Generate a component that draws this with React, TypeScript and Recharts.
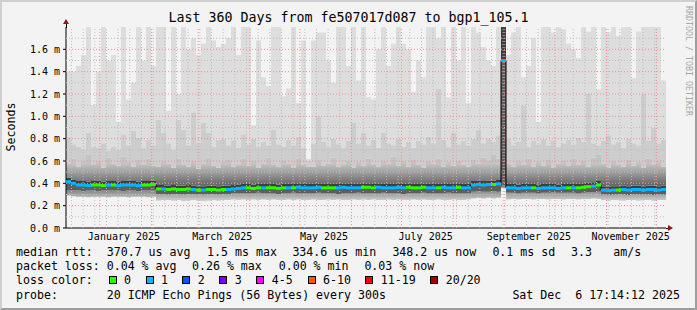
import React from "react";
import { ComposedChart, Area, Line, Scatter, XAxis, YAxis, ReferenceLine } from "recharts";

// time window: 360 days ending Sat Dec 6 17:14:12 2025, one sample every 3 days
const START = Date.UTC(2024, 11, 11, 17, 14, 12);
const DAY = 86400000;
const STEP = 3;
const SPAN = 360;

const monthStarts = [
  "2025-01-01", "2025-02-01", "2025-03-01", "2025-04-01", "2025-05-01", "2025-06-01",
  "2025-07-01", "2025-08-01", "2025-09-01", "2025-10-01", "2025-11-01", "2025-12-01",
];
const monthLabels = ["January 2025", "March 2025", "May 2025", "July 2025", "September 2025", "November 2025"];
const monthLabelDates = [
  "2025-01-15T12:00:00Z", "2025-03-15T12:00:00Z", "2025-05-15T12:00:00Z",
  "2025-07-15T12:00:00Z", "2025-09-15T12:00:00Z", "2025-11-15T12:00:00Z",
];
const firstSunday = "2024-12-15";

const yTicks = [0, 0.2, 0.4, 0.6, 0.8, 1.0, 1.2, 1.4, 1.6];
const yMinor = [0.1, 0.3, 0.5, 0.7, 0.9, 1.1, 1.3, 1.5, 1.7];

// median rtt (ms)
const med = [
  0.415, 0.40, 0.385, 0.385, 0.38, 0.385, 0.385, 0.38, 0.385, 0.385,
  0.38, 0.385, 0.385, 0.385, 0.38, 0.385, 0.385, 0.39, 0.35, 0.35,
  0.345, 0.35, 0.345, 0.345, 0.35, 0.345, 0.34, 0.34, 0.345, 0.345,
  0.34, 0.345, 0.345, 0.35, 0.355, 0.36, 0.36, 0.355, 0.36, 0.36,
  0.36, 0.36, 0.355, 0.36, 0.36, 0.36, 0.365, 0.36, 0.36, 0.36,
  0.365, 0.36, 0.36, 0.36, 0.36, 0.365, 0.36, 0.36, 0.36, 0.365,
  0.365, 0.36, 0.365, 0.36, 0.36, 0.36, 0.365, 0.36, 0.365, 0.36,
  0.36, 0.365, 0.36, 0.36, 0.36, 0.365, 0.36, 0.36, 0.365, 0.36,
  0.36, 0.385, 0.39, 0.385, 0.39, 0.39, 0.395, 1.5, 0.36, 0.36,
  0.355, 0.36, 0.36, 0.36, 0.355, 0.36, 0.36, 0.36, 0.355, 0.36,
  0.36, 0.36, 0.36, 0.365, 0.37, 0.375, 0.385, 0.34, 0.335, 0.34,
  0.34, 0.345, 0.34, 0.345, 0.345, 0.34, 0.345, 0.345, 0.34, 0.345,
];

// lost pings per sample (0 or 1 of 20)
const loss = [
  1, 1, 1, 1, 1, 0, 0, 0, 1, 0,
  1, 1, 1, 1, 1, 0, 0, 0, 0, 1,
  0, 0, 0, 0, 0, 1, 0, 1, 0, 0,
  0, 0, 1, 1, 1, 1, 0, 0, 0, 1,
  0, 0, 0, 0, 1, 0, 1, 1, 1, 1,
  1, 0, 0, 0, 1, 1, 1, 1, 1, 0,
  0, 0, 1, 1, 1, 1, 1, 1, 0, 0,
  0, 0, 1, 1, 0, 1, 1, 1, 0, 1,
  1, 1, 1, 1, 1, 0, 1, 1, 1, 1,
  1, 1, 1, 0, 1, 1, 1, 1, 1, 1,
  0, 1, 0, 0, 0, 1, 0, 1, 1, 1,
  0, 1, 1, 1, 1, 1, 1, 1, 1, 1,
];

// smoke: lowest ping
const lo = [
  0.29, 0.285, 0.28, 0.28, 0.275, 0.28, 0.28, 0.28, 0.275, 0.28,
  0.28, 0.28, 0.275, 0.28, 0.28, 0.28, 0.275, 0.28, 0.245, 0.25,
  0.25, 0.245, 0.25, 0.24, 0.245, 0.25, 0.245, 0.24, 0.245, 0.25,
  0.245, 0.25, 0.25, 0.255, 0.25, 0.255, 0.25, 0.255, 0.25, 0.255,
  0.25, 0.255, 0.25, 0.25, 0.255, 0.25, 0.255, 0.25, 0.25, 0.255,
  0.25, 0.25, 0.255, 0.25, 0.255, 0.25, 0.25, 0.255, 0.25, 0.255,
  0.25, 0.255, 0.25, 0.25, 0.255, 0.25, 0.255, 0.25, 0.25, 0.255,
  0.25, 0.255, 0.25, 0.25, 0.255, 0.25, 0.25, 0.255, 0.25, 0.25,
  0.255, 0.265, 0.27, 0.265, 0.27, 0.265, 0.27, 0.36, 0.255, 0.26,
  0.255, 0.26, 0.26, 0.255, 0.26, 0.26, 0.255, 0.26, 0.26, 0.255,
  0.26, 0.26, 0.255, 0.26, 0.26, 0.265, 0.26, 0.25, 0.245, 0.25,
  0.25, 0.245, 0.25, 0.25, 0.245, 0.25, 0.25, 0.245, 0.25, 0.25,
];

// smoke: lower edge of the dark band under the median
const dlo = [
  0.34, 0.335, 0.335, 0.33, 0.335, 0.335, 0.33, 0.335, 0.335, 0.34,
  0.335, 0.33, 0.335, 0.335, 0.33, 0.335, 0.335, 0.34, 0.305, 0.305,
  0.30, 0.305, 0.305, 0.30, 0.305, 0.305, 0.30, 0.30, 0.305, 0.305,
  0.30, 0.305, 0.305, 0.31, 0.31, 0.31, 0.31, 0.31, 0.315, 0.31,
  0.31, 0.31, 0.305, 0.31, 0.31, 0.315, 0.31, 0.31, 0.31, 0.31,
  0.315, 0.31, 0.31, 0.31, 0.305, 0.31, 0.31, 0.31, 0.315, 0.31,
  0.31, 0.31, 0.31, 0.315, 0.31, 0.31, 0.31, 0.305, 0.31, 0.31,
  0.31, 0.315, 0.31, 0.31, 0.31, 0.31, 0.315, 0.31, 0.31, 0.31,
  0.31, 0.325, 0.33, 0.325, 0.325, 0.33, 0.325, 0.37, 0.315, 0.315,
  0.31, 0.315, 0.315, 0.315, 0.31, 0.315, 0.315, 0.32, 0.315, 0.315,
  0.315, 0.315, 0.31, 0.315, 0.32, 0.32, 0.325, 0.30, 0.295, 0.30,
  0.30, 0.30, 0.295, 0.30, 0.30, 0.30, 0.30, 0.295, 0.30, 0.30,
];

// smoke: upper edge of the dark band over the median
const u1 = [
  0.45, 0.43, 0.42, 0.42, 0.415, 0.42, 0.425, 0.415, 0.42, 0.42,
  0.415, 0.42, 0.425, 0.42, 0.415, 0.42, 0.42, 0.425, 0.385, 0.385,
  0.38, 0.385, 0.38, 0.38, 0.385, 0.38, 0.375, 0.375, 0.38, 0.38,
  0.375, 0.38, 0.38, 0.385, 0.39, 0.395, 0.395, 0.39, 0.395, 0.395,
  0.395, 0.395, 0.39, 0.395, 0.395, 0.395, 0.40, 0.395, 0.395, 0.395,
  0.40, 0.395, 0.395, 0.395, 0.395, 0.40, 0.395, 0.395, 0.395, 0.40,
  0.40, 0.395, 0.40, 0.395, 0.395, 0.395, 0.40, 0.395, 0.40, 0.395,
  0.395, 0.40, 0.395, 0.395, 0.395, 0.40, 0.395, 0.395, 0.40, 0.395,
  0.395, 0.42, 0.425, 0.42, 0.425, 0.425, 0.43, 1.8, 0.395, 0.395,
  0.39, 0.395, 0.395, 0.395, 0.39, 0.395, 0.395, 0.395, 0.39, 0.395,
  0.395, 0.395, 0.395, 0.40, 0.405, 0.41, 0.42, 0.375, 0.37, 0.375,
  0.375, 0.38, 0.375, 0.38, 0.38, 0.375, 0.38, 0.38, 0.375, 0.38,
];

// smoke: top of the mid grey band
const mid1 = [
  0.58, 0.62, 0.55, 0.60, 0.66, 0.57, 0.60, 0.54, 0.63, 0.58,
  0.56, 0.64, 0.59, 0.55, 0.61, 0.57, 0.62, 0.56, 0.55, 0.60,
  0.58, 0.54, 0.62, 0.57, 0.55, 0.60, 0.53, 0.58, 0.63, 0.56,
  0.54, 0.59, 0.61, 0.55, 0.57, 0.62, 0.56, 0.60, 0.54, 0.58,
  0.63, 0.57, 0.55, 0.60, 0.58, 0.54, 0.62, 0.57, 0.55, 0.55,
  0.61, 0.56, 0.58, 0.63, 0.55, 0.57, 0.60, 0.54, 0.59, 0.56,
  0.62, 0.57, 0.55, 0.60, 0.58, 0.64, 0.56, 0.59, 0.55, 0.61,
  0.57, 0.54, 0.60, 0.58, 0.62, 0.55, 0.59, 0.56, 0.60, 0.57,
  0.55, 0.61, 0.58, 0.63, 0.60, 0.66, 0.62, 1.8, 0.58, 0.55,
  0.60, 0.57, 0.62, 0.55, 0.59, 0.56, 0.61, 0.54, 0.58, 0.60,
  0.56, 0.62, 0.57, 0.60, 0.55, 0.63, 0.66, 0.58, 0.54, 0.60,
  0.57, 0.55, 0.61, 0.56, 0.59, 0.54, 0.62, 0.57, 0.60, 0.55,
];

// smoke: top of the light grey spikes
const mid2 = [
  0.82, 0.75, 0.73, 0.70, 0.85, 0.73, 0.72, 0.76, 0.69, 0.73,
  0.70, 0.84, 0.74, 0.87, 0.81, 0.72, 0.79, 0.74, 0.97, 0.85,
  0.76, 0.70, 0.97, 0.88, 0.74, 1.03, 0.76, 0.94, 0.85, 0.73,
  0.79, 0.80, 0.74, 0.78, 0.72, 0.84, 0.75, 0.80, 0.73, 0.77,
  0.74, 0.88, 0.75, 0.73, 0.79, 0.74, 0.82, 0.72, 0.60, 0.76,
  1.00, 0.77, 0.73, 0.80, 0.75, 0.72, 0.78, 0.94, 0.76, 0.85,
  0.74, 0.79, 0.72, 0.85, 0.76, 0.74, 0.80, 0.73, 0.77, 0.72,
  0.78, 0.75, 0.82, 0.76, 1.25, 0.79, 0.73, 0.85, 0.75, 0.78,
  0.74, 0.80, 0.88, 0.76, 0.80, 0.77, 0.83, 1.8, 0.80, 0.74,
  0.77, 1.10, 0.73, 0.78, 0.75, 0.80, 0.74, 0.78, 0.73, 0.76,
  0.79, 0.75, 0.81, 0.77, 1.20, 0.76, 0.74, 0.78, 0.83, 0.75,
  0.77, 0.72, 0.80, 0.76, 0.74, 1.20, 0.78, 0.90, 0.76, 0.79,
];

// smoke: highest ping (1.8 = off the top of the graph)
const hi = [
  1.40, 1.40, 1.45, 1.55, 1.8, 1.10, 1.40, 1.8, 1.50, 1.55,
  0.95, 1.8, 1.15, 1.30, 1.8, 1.50, 1.8, 1.45, 1.8, 1.8,
  1.05, 1.8, 1.20, 1.8, 1.60, 1.70, 1.55, 1.65, 1.8, 1.68,
  1.62, 1.65, 1.70, 1.8, 1.55, 1.8, 1.8, 0.92, 1.68, 1.35,
  1.27, 1.8, 1.8, 1.18, 1.25, 1.8, 1.12, 1.68, 0.62, 1.68,
  1.75, 1.75, 1.50, 1.30, 1.8, 1.8, 1.45, 1.8, 1.32, 1.8,
  1.17, 1.15, 1.60, 1.8, 1.45, 1.65, 1.8, 1.65, 1.60, 1.22,
  1.50, 1.35, 1.8, 1.8, 1.70, 1.8, 1.17, 1.8, 1.50, 1.8,
  1.12, 1.8, 1.75, 1.62, 1.50, 1.45, 1.8, 1.8, 1.55, 1.75,
  1.8, 1.35, 1.45, 1.70, 0.95, 1.8, 1.8, 1.75, 1.8, 1.78,
  1.65, 1.60, 1.52, 1.8, 1.76, 1.8, 1.24, 1.8, 1.75, 1.8,
  1.72, 1.8, 1.8, 1.34, 1.76, 1.8, 1.8, 1.8, 1.8, 1.32,
];

const lossColors = ["#26ff00", "#00b8ff", "#0059ff", "#7e00ff", "#ff00ff", "#ff5500", "#ff0000", "#a10000"];
const lossLabels = ["0", "1", "2", "3", "4-5", "6-10", "11-19", "20/20"];

const statsRtt = ["median rtt:", "370.7 us avg", "1.5 ms max", "334.6 us min", "348.2 us now", "0.1 ms sd", "3.3", "am/s"];
const statsLoss = ["packet loss:", "0.04 % avg", "0.26 % max", "0.00 % min", "0.03 % now"];
const probeText = ["probe:", "20 ICMP Echo Pings (56 Bytes) every 300s", "Sat Dec  6 17:14:12 2025"];

const toDay = (s: string) => (Date.parse(s.length === 10 ? s + "T00:00:00Z" : s) - START) / DAY;
const monthDays = monthStarts.map(toDay);
const labelDays = monthLabelDates.map(toDay);
const weekDays: number[] = [];
for (let d = toDay(firstSunday); d < SPAN; d += 7) weekDays.push(d);

const rows = med.map((m, i) => ({
  t: i * STEP,
  med: m,
  loss: loss[i],
  lo: lo[i],
  dlo: dlo[i],
  u1: u1[i],
  mid1: mid1[i],
  mid2: mid2[i],
  hi: hi[i],
}));
const chartRows = [...rows, { ...rows[rows.length - 1], t: SPAN }];

const bands = [
  { from: "lo", to: "dlo", fill: "url(#smokeLow)" },
  { from: "dlo", to: "med", fill: "#5e5e5e" },
  { from: "med", to: "u1", fill: "#3e3e3e" },
  { from: "u1", to: "mid1", fill: "url(#smokeUp)" },
  { from: "mid1", to: "mid2", fill: "#cdcdcd" },
  { from: "mid2", to: "hi", fill: "#dddddd" },
];

const MONO = "'DejaVu Sans Mono', monospace";
const W = 697;
const H = 310;
const MARGIN = { top: 27, right: 31, bottom: 68, left: 10 };

const MedianMark = (p: any) => {
  const { cx, cy, payload } = p;
  if (cx == null || cy == null) return null;
  return <rect x={cx} y={cy - 1.5} width={5} height={3} fill={lossColors[payload.loss]} />;
};

const Txt = ({ x, y, children }: { x: number; y: number; children: React.ReactNode }) => (
  <div style={{ position: "absolute", left: x, top: y - 7, lineHeight: "14px", whiteSpace: "pre" }}>{children}</div>
);

// same axes in every layer so all layers share one plot rectangle
const axes = (bare: boolean) => [
  <XAxis
    key="x"
    type="number"
    dataKey="t"
    domain={[0, SPAN]}
    ticks={labelDays}
    interval={0}
    tickFormatter={(v: number) => monthLabels[labelDays.indexOf(v)] ?? ""}
    tick={bare ? false : { fontSize: 10, fontFamily: MONO, fill: "#000" }}
    tickLine={false}
    tickSize={0}
    tickMargin={5}
    height={14}
    axisLine={bare ? false : { stroke: "#000" }}
  />,
  <YAxis
    key="y"
    type="number"
    domain={[0, 1.8]}
    allowDataOverflow
    ticks={yTicks}
    interval={0}
    tickFormatter={(v: number) => `${v.toFixed(1)} m`}
    tick={bare ? false : { fontSize: 10, fontFamily: MONO, fill: "#000" }}
    tickSize={3}
    tickMargin={3}
    width={56}
    axisLine={bare ? false : { stroke: "#000" }}
    tickLine={bare ? false : { stroke: "#000" }}
  />,
];

const layer: React.CSSProperties = { position: "absolute", left: 0, top: 0 };

export default function App() {
  const rttX = [16, 106.7, 207.1, 292.4, 392.4, 492.4, 571.1, 613.3];
  const lossX = [16, 106.7, 192, 278.7, 364.4];
  const swatchX = [108.5, 145.5, 182.3, 219.2, 256.3, 307.6, 365.3, 430.2];
  const probeX = [16, 106.7, 512.4];

  return (
    <div style={{ position: "absolute", left: 0, top: 0, width: W, height: H, fontFamily: MONO, color: "#000" }}>
      <div
        style={{
          position: "absolute", left: 0, top: 0, width: W, height: H, boxSizing: "border-box",
          background: "#f3f3f3", borderStyle: "solid", borderWidth: 2,
          borderColor: "#cfcfcf #9e9e9e #9e9e9e #cfcfcf",
        }}
      />
      {/* smoke */}
      <div style={layer}>
        <ComposedChart width={W} height={H} data={chartRows} margin={MARGIN}>
          <defs>
            <linearGradient id="smokeUp" gradientUnits="userSpaceOnUse" x1="0" y1="184" x2="0" y2="164">
              <stop offset="0" stopColor="#6a6a6a" />
              <stop offset="1" stopColor="#c3c3c3" />
            </linearGradient>
            <linearGradient id="smokeLow" gradientUnits="userSpaceOnUse" x1="0" y1="191" x2="0" y2="201">
              <stop offset="0" stopColor="#8a8a8a" />
              <stop offset="1" stopColor="#d2d2d2" />
            </linearGradient>
          </defs>
          {axes(false)}
          {bands.map((b) => (
            <Area
              key={b.from}
              type="stepAfter"
              dataKey={(d: any) => [d[b.from], d[b.to]]}
              stroke="none"
              fill={b.fill}
              fillOpacity={1}
              isAnimationActive={false}
            />
          ))}
        </ComposedChart>
      </div>
      {/* grid, over the smoke */}
      <div style={layer}>
        <ComposedChart width={W} height={H} data={chartRows} margin={MARGIN}>
          {axes(true)}
          {yMinor.map((v) => (
            <ReferenceLine key={"ym" + v} y={v} stroke="#bdbdbd" strokeDasharray="1 2" />
          ))}
          {weekDays.map((d) => (
            <ReferenceLine key={"w" + d} x={d} stroke="#bdbdbd" strokeDasharray="1 2" />
          ))}
          {yTicks.slice(1).map((v) => (
            <ReferenceLine key={"yM" + v} y={v} stroke="#f09090" strokeDasharray="1 2" />
          ))}
          {monthDays.map((d) => (
            <ReferenceLine key={"m" + d} x={d} stroke="#f09090" strokeDasharray="1 2" />
          ))}
        </ComposedChart>
      </div>
      {/* median */}
      <div style={layer}>
        <ComposedChart width={W} height={H} data={chartRows} margin={MARGIN}>
          {axes(true)}
          <Line type="stepAfter" dataKey="med" stroke="#000" strokeWidth={1} dot={false} isAnimationActive={false} />
          <Scatter data={rows} dataKey="med" shape={MedianMark} isAnimationActive={false} />
        </ComposedChart>
      </div>

      {/* axis arrows */}
      <div style={{ position: "absolute", left: 66, top: 22, width: 1, height: 6, background: "#000" }} />
      <div
        style={{
          position: "absolute", left: 63, top: 19, width: 0, height: 0,
          borderLeft: "3.5px solid transparent", borderRight: "3.5px solid transparent", borderBottom: "5px solid #8b1a1a",
        }}
      />
      <div style={{ position: "absolute", left: 666, top: 228, width: 3, height: 1, background: "#000" }} />
      <div
        style={{
          position: "absolute", left: 668, top: 225, width: 0, height: 0,
          borderTop: "3.5px solid transparent", borderBottom: "3.5px solid transparent", borderLeft: "5px solid #8b1a1a",
        }}
      />

      <div style={{ position: "absolute", left: 0, width: W, top: 10, textAlign: "center", fontSize: 13.3, lineHeight: "16px" }}>
        {"Last 360 Days from fe507017d087 to bgp1_105.1"}
      </div>
      <div
        style={{
          position: "absolute", left: 11, top: 127, fontSize: 11.6, lineHeight: "14px", whiteSpace: "pre",
          transform: "translate(-50%, -50%) rotate(-90deg)",
        }}
      >
        Seconds
      </div>
      <div
        style={{
          position: "absolute", left: 684, top: 6, fontSize: 8.3, lineHeight: "10px", color: "#a8a8a8",
          writingMode: "vertical-rl", whiteSpace: "pre",
        }}
      >
        RRDTOOL / TOBI OETIKER
      </div>

      <div style={{ position: "absolute", left: 0, top: 0, fontSize: 11.6 }}>
        {statsRtt.map((s, i) => (
          <Txt key={"r" + i} x={rttX[i]} y={252}>{s}</Txt>
        ))}
        {statsLoss.map((s, i) => (
          <Txt key={"l" + i} x={lossX[i]} y={266}>{s}</Txt>
        ))}
        <Txt x={16} y={280}>loss color:</Txt>
        {lossLabels.map((s, i) => (
          <React.Fragment key={"c" + i}>
            <div
              style={{
                position: "absolute", left: swatchX[i], top: 276, width: 8, height: 8, boxSizing: "border-box",
                background: lossColors[i], border: "1px solid #000",
              }}
            />
            <Txt x={swatchX[i] + 15.5} y={280}>{s}</Txt>
          </React.Fragment>
        ))}
        {probeText.map((s, i) => (
          <Txt key={"p" + i} x={probeX[i]} y={294.5}>{s}</Txt>
        ))}
      </div>
    </div>
  );
}
